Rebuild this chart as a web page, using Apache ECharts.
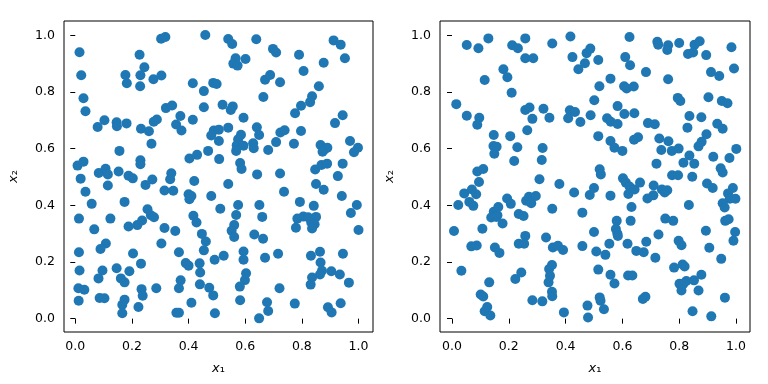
<!DOCTYPE html>
<html><head><meta charset="utf-8">
<script src="https://cdn.jsdelivr.net/npm/echarts@6/dist/echarts.min.js"></script>
<style>html,body{margin:0;padding:0;background:#fff}#c{width:768px;height:384px}</style>
</head><body><div id="c"></div>
<script>
const tickValues = [0, 0.2, 0.4, 0.6, 0.8, 1.0];
const xLabel = 'x';
const xSub = '₁';
const yLabel = 'x';
const ySub = '₂';

const leftPoints = [
[0.015,0.940],[0.021,0.859],[0.029,0.778],[0.036,0.732],[0.303,0.988],[0.318,0.994],[0.459,1.001],[0.227,0.931],[0.244,0.887],[0.177,0.860],[0.182,0.831],[0.230,0.859],[0.229,0.820],[0.276,0.845],[0.304,0.858],[0.415,0.831],[0.454,0.803],[0.487,0.832],[0.499,0.828],[0.454,0.746],[0.320,0.743],[0.342,0.752],[0.371,0.715],[0.415,0.702],[0.288,0.703],[0.277,0.695],[0.356,0.685],[0.375,0.664],[0.232,0.670],[0.260,0.661],[0.269,0.617],[0.079,0.676],[0.103,0.700],[0.146,0.693],[0.147,0.679],[0.181,0.689],[0.156,0.592],[0.008,0.540],[0.029,0.554],[0.083,0.514],[0.107,0.529],[0.115,0.509],[0.153,0.519],[0.230,0.559],[0.230,0.545],[0.339,0.513],[0.403,0.565],[0.430,0.578],[0.469,0.592],[0.489,0.664],[0.480,0.646],
[0.540,0.987],[0.554,0.969],[0.639,0.986],[0.698,0.952],[0.709,0.939],[0.790,0.931],[0.912,0.982],[0.937,0.967],[0.952,0.919],[0.877,0.903],[0.806,0.874],[0.566,0.919],[0.558,0.900],[0.573,0.893],[0.601,0.916],[0.670,0.843],[0.688,0.860],[0.723,0.834],[0.860,0.820],[0.664,0.782],[0.836,0.785],[0.829,0.764],[0.797,0.751],[0.776,0.725],[0.520,0.755],[0.556,0.749],[0.549,0.736],[0.594,0.709],[0.944,0.718],[0.917,0.690],[0.540,0.674],[0.507,0.667],[0.507,0.627],[0.641,0.675],[0.649,0.648],[0.585,0.649],[0.575,0.633],[0.570,0.612],[0.568,0.592],[0.594,0.610],[0.628,0.619],[0.630,0.601],[0.681,0.595],[0.709,0.623],[0.724,0.657],[0.739,0.665],[0.797,0.662],[0.772,0.617],[0.866,0.613],[0.880,0.597],[0.890,0.603],[0.873,0.589],[0.970,0.627],[0.998,0.603],[0.984,0.587],[0.508,0.563],[0.582,0.549],[0.587,0.528],[0.642,0.509],[0.723,0.512],[0.847,0.526],[0.869,0.542],[0.889,0.547],[0.944,0.547],
[0.019,0.494],[0.115,0.470],[0.188,0.504],[0.203,0.495],[0.248,0.472],[0.272,0.491],[0.335,0.492],[0.315,0.452],[0.346,0.451],[0.420,0.486],[0.400,0.439],[0.410,0.433],[0.403,0.421],[0.480,0.433],[0.036,0.448],[0.058,0.405],[0.174,0.412],[0.013,0.353],[0.124,0.353],[0.255,0.386],[0.267,0.365],[0.278,0.358],[0.236,0.346],[0.219,0.330],[0.188,0.325],[0.067,0.315],[0.315,0.320],[0.353,0.309],[0.417,0.363],[0.428,0.339],[0.447,0.299],[0.461,0.272],[0.454,0.241],[0.108,0.265],[0.089,0.246],[0.304,0.265],[0.013,0.234],[0.204,0.230],[0.366,0.234],[0.390,0.196],[0.400,0.187],[0.439,0.195],[0.441,0.163],[0.492,0.208],[0.232,0.194],[0.015,0.170],[0.096,0.170],[0.082,0.142],[0.146,0.178],[0.191,0.167],[0.161,0.142],[0.174,0.128],[0.372,0.135],[0.366,0.107],[0.440,0.121],[0.473,0.109],[0.487,0.082],[0.286,0.107],[0.234,0.104],[0.238,0.081],[0.011,0.107],[0.032,0.102],[0.012,0.063],[0.086,0.073],[0.103,0.072],[0.174,0.067],[0.166,0.049],[0.166,0.019],[0.223,0.041],[0.410,0.056],[0.357,0.021],[0.366,0.021],[0.493,0.019],
[0.927,0.503],[0.540,0.475],[0.850,0.475],[0.877,0.455],[0.737,0.448],[0.941,0.433],[0.512,0.388],[0.575,0.401],[0.568,0.366],[0.650,0.401],[0.660,0.359],[0.793,0.412],[0.842,0.398],[0.994,0.401],[0.973,0.373],[0.784,0.353],[0.805,0.360],[0.822,0.358],[0.850,0.359],[0.833,0.339],[0.845,0.333],[0.836,0.318],[0.779,0.321],[1.000,0.313],[0.561,0.330],[0.552,0.310],[0.561,0.288],[0.632,0.297],[0.663,0.282],[0.524,0.222],[0.594,0.237],[0.594,0.208],[0.670,0.215],[0.716,0.229],[0.832,0.222],[0.864,0.236],[0.866,0.198],[0.871,0.169],[0.864,0.156],[0.836,0.145],[0.831,0.120],[0.904,0.167],[0.934,0.156],[0.966,0.127],[0.945,0.229],[0.603,0.160],[0.599,0.136],[0.581,0.113],[0.721,0.107],[0.582,0.065],[0.677,0.058],[0.681,0.027],[0.649,0.001],[0.775,0.053],[0.892,0.040],[0.905,0.022],[0.937,0.054]
];

const rightPoints = [
[0.052,0.966],[0.093,0.954],[0.128,0.989],[0.212,0.965],[0.232,0.954],[0.258,0.989],[0.258,0.919],[0.286,0.919],[0.353,0.971],[0.417,0.996],[0.424,0.923],[0.445,0.880],[0.468,0.901],[0.474,0.937],[0.487,0.953],[0.181,0.880],[0.195,0.852],[0.115,0.842],[0.210,0.797],[0.015,0.757],[0.052,0.716],[0.096,0.709],[0.089,0.684],[0.258,0.736],[0.273,0.745],[0.283,0.705],[0.322,0.741],[0.343,0.709],[0.265,0.665],[0.147,0.648],[0.205,0.644],[0.146,0.609],[0.157,0.607],[0.149,0.582],[0.230,0.605],[0.219,0.556],[0.319,0.602],[0.316,0.560],[0.415,0.735],[0.433,0.729],[0.409,0.707],[0.452,0.694],[0.089,0.519],[0.110,0.528],
[0.625,0.994],[0.723,0.977],[0.726,0.967],[0.761,0.965],[0.758,0.948],[0.800,0.973],[0.854,0.967],[0.872,0.979],[0.831,0.934],[0.849,0.939],[0.895,0.930],[0.984,0.958],[0.993,0.883],[0.912,0.870],[0.941,0.856],[0.610,0.923],[0.627,0.894],[0.515,0.913],[0.683,0.870],[0.761,0.845],[0.558,0.847],[0.519,0.820],[0.606,0.820],[0.615,0.812],[0.640,0.819],[0.501,0.771],[0.583,0.750],[0.607,0.722],[0.642,0.725],[0.488,0.718],[0.546,0.707],[0.559,0.695],[0.583,0.687],[0.795,0.779],[0.804,0.768],[0.903,0.781],[0.950,0.768],[0.970,0.760],[0.836,0.715],[0.878,0.711],[0.829,0.674],[0.690,0.690],[0.714,0.686],[0.934,0.688],[0.953,0.670],[0.896,0.651],[0.515,0.644],[0.558,0.627],[0.572,0.603],[0.600,0.592],[0.641,0.631],[0.655,0.640],[0.730,0.636],[0.762,0.626],[0.737,0.595],[0.774,0.592],[0.798,0.600],[0.868,0.608],[0.879,0.624],[1.001,0.599],[0.836,0.576],[0.815,0.550],[0.853,0.547],[0.920,0.571],[0.977,0.567],[0.720,0.547],[0.520,0.527],[0.524,0.509],[0.946,0.531],[0.953,0.516],
[0.095,0.482],[0.043,0.442],[0.070,0.456],[0.085,0.439],[0.022,0.401],[0.061,0.412],[0.075,0.398],[0.007,0.309],[0.033,0.169],[0.107,0.317],[0.068,0.255],[0.087,0.258],[0.147,0.377],[0.138,0.357],[0.160,0.365],[0.156,0.359],[0.163,0.394],[0.178,0.336],[0.151,0.251],[0.167,0.232],[0.194,0.424],[0.207,0.405],[0.235,0.369],[0.252,0.362],[0.258,0.292],[0.235,0.264],[0.254,0.264],[0.308,0.492],[0.261,0.416],[0.271,0.430],[0.295,0.433],[0.279,0.407],[0.378,0.475],[0.353,0.388],[0.430,0.445],[0.485,0.436],[0.459,0.374],[0.331,0.286],[0.355,0.251],[0.373,0.257],[0.391,0.242],[0.459,0.256],[0.342,0.175],[0.352,0.189],[0.345,0.151],[0.340,0.128],[0.352,0.095],[0.353,0.079],[0.223,0.140],[0.244,0.163],[0.131,0.128],[0.101,0.085],[0.110,0.078],[0.124,0.041],[0.115,0.026],[0.135,0.011],[0.283,0.065],[0.318,0.061],[0.394,0.022],[0.477,0.046],[0.479,0.004],
[0.602,0.495],[0.612,0.480],[0.625,0.466],[0.621,0.440],[0.643,0.456],[0.662,0.480],[0.775,0.506],[0.796,0.506],[0.846,0.501],[0.500,0.461],[0.558,0.434],[0.710,0.470],[0.709,0.435],[0.688,0.424],[0.739,0.456],[0.749,0.445],[0.758,0.453],[0.834,0.401],[0.898,0.477],[0.918,0.461],[0.989,0.461],[0.972,0.442],[0.978,0.423],[0.998,0.423],[0.953,0.407],[0.960,0.392],[0.632,0.394],[0.580,0.345],[0.629,0.345],[0.751,0.353],[0.779,0.345],[0.962,0.345],[0.974,0.351],[0.500,0.306],[0.577,0.316],[0.582,0.300],[0.584,0.292],[0.894,0.310],[0.997,0.306],[0.991,0.275],[0.727,0.297],[0.554,0.264],[0.618,0.264],[0.684,0.271],[0.508,0.237],[0.540,0.225],[0.649,0.239],[0.675,0.234],[0.716,0.215],[0.798,0.275],[0.808,0.259],[0.906,0.250],[0.948,0.211],[0.515,0.173],[0.558,0.155],[0.572,0.124],[0.620,0.152],[0.635,0.152],[0.782,0.180],[0.812,0.191],[0.819,0.184],[0.878,0.155],[0.801,0.123],[0.808,0.099],[0.825,0.133],[0.852,0.135],[0.815,0.123],[0.868,0.099],[0.961,0.074],[0.672,0.069],[0.681,0.077],[0.520,0.075],[0.523,0.063],[0.535,0.033],[0.847,0.026],[0.913,0.008]
];

const FONT = 'DejaVu Sans';
const rich = {
  i: {fontFamily: FONT, fontStyle: 'italic', fontSize: 13, color: '#000'},
  n: {fontFamily: FONT, fontSize: 13, color: '#000'}
};
function xAxisCfg(gridIndex, min, max) {
  return {
    type: 'value', gridIndex, min, max,
    name: '{i|' + xLabel + '}{n|' + xSub + '}', nameLocation: 'middle', nameGap: 30,
    nameTextStyle: {rich},
    axisLine: {show: false},
    axisTick: {show: true, inside: false, length: 5, lineStyle: {color: '#000', width: 1}, customValues: tickValues},
    axisLabel: {show: true, margin: 8, color: '#000', fontFamily: FONT, fontSize: 12.5,
      customValues: tickValues, formatter: v => v.toFixed(1)},
    splitLine: {show: false}
  };
}
function yAxisCfg(gridIndex, min, max) {
  return {
    type: 'value', gridIndex, min, max,
    name: '{i|' + yLabel + '}{n|' + ySub + '}', nameLocation: 'middle', nameGap: 44,
    nameTextStyle: {rich},
    axisLine: {show: false},
    axisTick: {show: true, inside: false, length: 5, lineStyle: {color: '#000', width: 1}, customValues: tickValues},
    axisLabel: {show: true, margin: 9, color: '#000', fontFamily: FONT, fontSize: 12.5,
      customValues: tickValues, formatter: v => v.toFixed(1)},
    splitLine: {show: false}
  };
}
const chart = echarts.init(document.getElementById('c'), null, {renderer: 'canvas'});
chart.setOption({
  animation: false,
  backgroundColor: '#fff',
  grid: [
    {left: 64, top: 21, width: 309, height: 311, show: true, borderColor: '#000', borderWidth: 1, backgroundColor: 'transparent'},
    {left: 440, top: 21, width: 310, height: 311, show: true, borderColor: '#000', borderWidth: 1, backgroundColor: 'transparent'}
  ],
  xAxis: [xAxisCfg(0, -0.0398, 1.0511), xAxisCfg(1, -0.0423, 1.0493)],
  yAxis: [yAxisCfg(0, -0.0472, 1.0504), yAxisCfg(1, -0.0472, 1.0504)],
  series: [
    {type: 'scatter', xAxisIndex: 0, yAxisIndex: 0, data: leftPoints, symbolSize: 10,
      itemStyle: {color: '#1f77b4', opacity: 1}},
    {type: 'scatter', xAxisIndex: 1, yAxisIndex: 1, data: rightPoints, symbolSize: 10,
      itemStyle: {color: '#1f77b4', opacity: 1}}
  ]
});
</script>
</body></html>
